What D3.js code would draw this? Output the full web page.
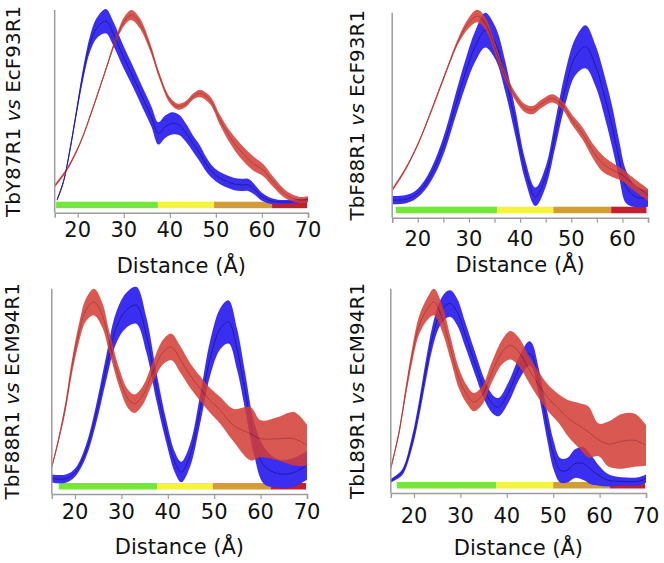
<!DOCTYPE html>
<html><head><meta charset="utf-8">
<script src="https://cdn.jsdelivr.net/npm/d3@7"></script>
<style>body{margin:0;background:#fff} svg{display:block}</style>
</head><body><svg id="c" width="664" height="563"></svg>
<script>
// ---------- data (distance in Å, density in arbitrary units 0-100) ----------
const p1Label = ["TbY87R1", "EcF93R1"];
const p2Label = ["TbF88R1", "EcF93R1"];
const p3Label = ["TbF88R1", "EcM94R1"];
const p4Label = ["TbL89R1", "EcM94R1"];
const xTitle = "Distance (Å)";
const ticks70 = [20, 30, 40, 50, 60, 70];
const ticks65 = [20, 30, 40, 50, 60];
const minor65 = [15, 25, 35, 45, 55, 65];

// Panel 1
const p1BlueX = [15.5,16.9,18.3,19.8,21.2,22.7,24.1,26.1,27.7,29.9,32,34,36,37.5,39,40.5,42,43.6,45,46.5,48,49.5,51,52.5,54,55.5,57,58.5,60,62,64,66,68,70];
const p1BlueMean = [6.3,15.3,30.9,50.7,68.8,83.6,91.0,94.5,88.5,77.0,67.1,57.2,47.4,39.1,42.4,44.1,43.3,39.1,34.2,29.3,23.5,19.4,16.9,15.3,14.1,13.7,13.7,11.2,7.9,5.8,5.3,5.4,5.8,6.3];
const p1BlueErr = [0.6,1,1.5,2,3,4,5,6,6,5.5,5.2,5,5,5.5,5.5,5.5,5,4.5,4,4,3.5,3,3,3,3,3,3,2.5,2,1.5,1,1,1,1];
const p1RedX = [15,17.6,20.5,23.4,26.3,28.5,30.3,31.7,33.5,35.7,37.8,40,41.8,43.6,45,46.5,48.7,50.9,53,55.2,58.1,60.2,62.4,65.3,68.2,70];
const p1RedMean = [13.2,21.1,34.2,52.3,72.0,86.8,95.1,97.5,93.4,81.9,67.1,55.6,52.3,53.9,57.2,58.9,55.6,45.7,37.5,30.9,24.3,21.1,15.3,8.7,6.3,6.6];
const p1RedErr = [0.8,0.8,0.8,0.9,1,1.5,2.2,2.5,2.5,2,1.5,1.5,1.5,1.5,1.5,1.8,2,2.5,3,3.5,3.5,3,2.5,2,1.5,1.5];
const p1Bar = [15.3, 37.4, 49.6, 62.2, 69.8];

// Panel 2
const p2BlueX = [15,17.5,19.5,21.4,23.4,25.4,27.3,29.3,31.2,33.2,35.2,37.1,39.1,41,43,45,46.9,48.9,50.8,52.8,54.8,56.7,58,59.4,60.7,62.6,65];
const p2BlueMean = [8.6,8.9,11,16,24.9,37.9,54.1,70.4,83.4,91.5,85,68.8,46,23.3,10.2,20,41.1,63.9,78.5,83.4,73.7,57.4,44.4,28.1,15.1,10.2,9.4];
const p2BlueErr = [2,2,2,2.5,3.5,4.5,5.5,6.5,7.5,8.5,8,7.5,6.5,5,4.5,5,6.5,8,9,10.5,10,10,10,9,8,5,4];
const p2RedX = [15,17.5,20.1,22.7,25.4,28,29.9,31.6,33.2,35.2,37.1,39.1,41,42.4,44.3,46.3,48.2,50.2,52.2,54.1,56.1,58,60,62,65];
const p2RedMean = [13.5,23.3,36.3,52.5,70.4,86.7,94.8,98.4,94.8,81.8,68.8,59,53.3,52.5,55.8,58.2,55,47.6,41.1,33,26.5,23.3,20.8,16.7,11.1];
const p2RedErr = [0.8,0.8,0.8,0.9,1,1.5,2.5,3,3,2.5,2,2,2,2,2,2,2,2.5,3,3.5,4,3.5,3,3,3];
const p2Bar = [15.7, 35.5, 46.5, 57.8, 64.7];

// Panel 3
const p3BlueX = [15,18,20.1,22.3,24.5,26.7,28.8,31,33.2,35.4,37.5,39.7,41.5,42.9,44.8,47,49.1,51.3,53.1,54.9,56.7,58.6,60.7,63.6,66.5,68.5,70];
const p3BlueMean = [7.5,7.5,10.7,20.5,38.3,61,80.5,89.4,91.9,77.3,52.9,30.2,15.6,10.7,18.8,41.6,65.9,80.5,83.8,70.8,49.7,26.9,14,10,10,12,14];
const p3BlueErr = [2,2,2,3,4.5,6,7.5,8.5,9,8.5,7,5.5,5,5,5.5,7,8.5,10,10.5,10,9,8,9,7,7,7,7];
const p3RedX = [15,16.5,18,19.4,20.9,22.3,24.1,25.9,27.4,29.6,31.4,32.8,34.6,36.8,39,40.8,42.6,44.8,47,49.1,51.3,54.2,57.8,60,63.6,67.2,70];
const p3RedMean = [13,26.9,43.2,62.7,78.9,89.4,93.5,87,74,56.2,46.4,44,48,59.4,69.2,71.6,65.9,57.8,51.3,45.6,40.7,33.4,29.4,26.9,26.9,26.9,23.7];
const p3RedErr = [1,1.5,2.5,3.5,4.5,5.5,6.5,6,5,4.5,4.5,4.5,4.5,5,6,6.5,6.5,6,6,6,6.5,8,13,9,10.5,13,10];
const p3Bar = [16.5, 37.7, 49.7, 62.2, 69.8];

// Panel 4
const p4BlueX = [15,15.7,17.5,19.6,21.1,22.5,23.9,25.4,26.8,27.9,29.3,31.1,33.3,35.4,37.2,38.3,40.4,42.6,44.7,45.4,46.9,48.7,50.1,51.5,53,54.7,56.5,58.3,59.8,61.9,64.8,68.4,70];
const p4BlueMean = [6,7,10.3,25,41.3,59.2,75.5,87,91.8,92.7,88.6,77.2,62.5,49.4,42.9,42.1,49.4,60.8,68.2,67.4,54.3,33.1,18.4,11.1,11.1,14.4,14.4,11.1,8.6,6.2,5.7,5.7,7];
const p4BlueErr = [1,1,1.5,3,4,5,5.5,6,6.5,6.5,6.5,6,5.5,5,4.5,4.5,5,5.5,6,6,6.5,7,7,6,6,7,8,7,5,3,2,2,2];
const p4RedX = [15,16.8,18.2,19.6,21.1,22.9,24.3,26.1,27.9,29.7,31.5,32.9,34.7,36.8,39,40.8,42.6,44.7,46.9,49,51.2,53.3,55.5,57.6,59.8,61.9,64.8,67.6,70];
const p4RedMean = [12,29.9,49.4,67.4,82.1,90.2,93.5,85.3,70.6,56,47.8,44.5,47.8,59.2,69,72.3,69,60.8,52.7,46.2,41.3,36.4,33.1,29.9,26,24,25.3,25.8,23.3];
const p4RedErr = [1,1.5,2.5,3.5,4.5,5.5,6.5,6.5,5.5,5,4.5,4.5,4.5,5,6,7,7,6.5,6.5,6.5,7,9,11,12.5,8,11,13.4,13,10];
const p4Bar = [16.3, 37.7, 50.0, 62.2, 69.8];

const barColors = ["#74e83a", "#f6f33c", "#d39c36", "#c41f2b"];

// ---------- layout ----------
const panels = [
  { label: p1Label, xMax: 70, ticks: ticks70, minor: [],
    blue: [p1BlueX, p1BlueMean, p1BlueErr], red: [p1RedX, p1RedMean, p1RedErr], bar: p1Bar,
    L: 54.7, R: 308, T: 10, B: 212.7, labelX: 13, tickY: 230, titleY: 266 },
  { label: p2Label, xMax: 65, ticks: ticks65, minor: minor65,
    blue: [p2BlueX, p2BlueMean, p2BlueErr], red: [p2RedX, p2RedMean, p2RedErr], bar: p2Bar,
    L: 392.2, R: 648, T: 12.7, B: 217.7, labelX: 357, tickY: 239, titleY: 265 },
  { label: p3Label, xMax: 70, ticks: ticks70, minor: [],
    blue: [p3BlueX, p3BlueMean, p3BlueErr], red: [p3RedX, p3RedMean, p3RedErr], bar: p3Bar,
    L: 51.8, R: 307, T: 288.7, B: 494, labelX: 12, tickY: 512, titleY: 547 },
  { label: p4Label, xMax: 70, ticks: ticks70, minor: [],
    blue: [p4BlueX, p4BlueMean, p4BlueErr], red: [p4RedX, p4RedMean, p4RedErr], bar: p4Bar,
    L: 390.8, R: 646, T: 288.7, B: 493, labelX: 357, tickY: 516, titleY: 548 }
];

const svg = d3.select("#c");
const FONT = "DejaVu Sans, Liberation Sans, Arial, sans-serif";
const axisCol = "#9c9c9c";

panels.forEach(p => {
  const x = d3.scaleLinear().domain([15, p.xMax]).range([p.L, p.R]);
  const y = d3.scaleLinear().domain([0, 100]).range([p.B, p.T]);
  const g = svg.append("g");

  // color bar
  const barTop = p.B - 11, barH = 6.5;
  for (let i = 0; i < 4; i++) {
    g.append("rect").attr("x", x(p.bar[i])).attr("y", barTop)
      .attr("width", x(p.bar[i + 1]) - x(p.bar[i])).attr("height", barH)
      .attr("fill", barColors[i]);
  }

  const drawSeries = (s, fill, line, op) => {
    const pts = s[0].map((xx, i) => ({ x: xx, m: s[1][i], e: s[2][i] }));
    const area = d3.area().x(d => x(d.x)).y0(d => y(d.m - d.e)).y1(d => y(d.m + d.e))
      .curve(d3.curveCatmullRom.alpha(0.5));
    const ln = d3.line().x(d => x(d.x)).y(d => y(d.m)).curve(d3.curveCatmullRom.alpha(0.5));
    const sg = g.append("g").attr("opacity", op);
    sg.append("path").attr("d", area(pts)).attr("fill", fill);
    sg.append("path").attr("d", ln(pts)).attr("fill", "none").attr("stroke", line).attr("stroke-width", 1);
  };
  drawSeries(p.blue, "#3a2ff0", "#1f1b9c", 1);
  drawSeries(p.red, "#d43c35", "#a01f1c", 0.85);

  // axes
  g.append("line").attr("x1", p.L).attr("x2", p.L).attr("y1", p.T).attr("y2", p.B)
    .attr("stroke", axisCol).attr("stroke-width", 1.5);
  const xa = g.append("g").attr("transform", `translate(0,${p.B})`)
    .call(d3.axisBottom(x).tickValues(p.ticks.concat(p.minor)).tickSize(5).tickFormat(""));
  xa.select(".domain").attr("stroke", axisCol).attr("stroke-width", 1.5);
  xa.selectAll(".tick line").attr("stroke", axisCol).attr("stroke-width", 1.2);

  p.ticks.forEach(t => {
    g.append("text").attr("x", x(t)).attr("y", p.tickY).attr("dy", "0.35em")
      .attr("text-anchor", "middle").attr("font-family", FONT).attr("font-size", 21)
      .attr("fill", "#111").text(t);
  });
  g.append("text").attr("x", (p.L + p.R) / 2).attr("y", p.titleY).attr("dy", "0.35em")
    .attr("text-anchor", "middle").attr("font-family", FONT).attr("font-size", 21)
    .attr("fill", "#111").text(xTitle);

  const ly = (p.T + p.B) / 2;
  const lt = g.append("text").attr("transform", `translate(${p.labelX},${ly}) rotate(-90)`)
    .attr("dy", "0.35em").attr("text-anchor", "middle").attr("font-family", FONT)
    .attr("font-size", 20).attr("fill", "#111");
  lt.append("tspan").text(p.label[0] + " ");
  lt.append("tspan").attr("font-style", "italic").text("vs");
  lt.append("tspan").text(" " + p.label[1]);
});
</script></body></html>
